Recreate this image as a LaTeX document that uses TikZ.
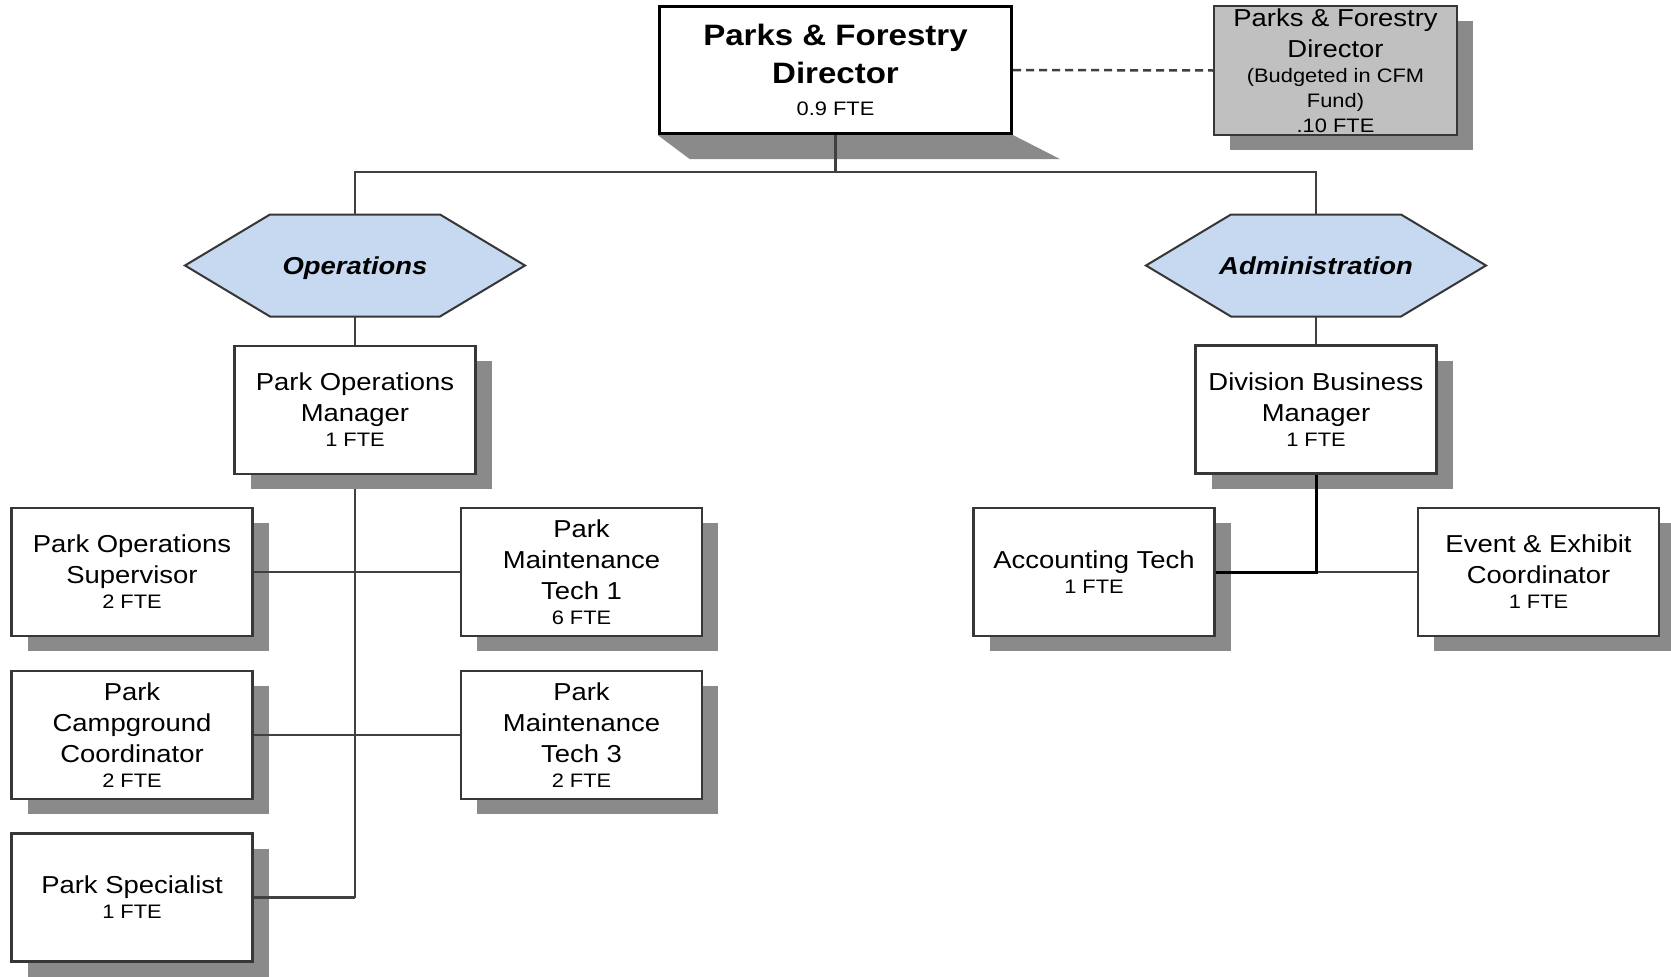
\documentclass[tikz,border=0pt]{standalone}
\usepackage{fontspec}
\setmainfont{Liberation Sans}[FakeStretch=1.12]
\usetikzlibrary{shadows,backgrounds,calc}

\definecolor{shadowcol}{RGB}{138,138,138}
\definecolor{bordercol}{RGB}{55,55,55}
\definecolor{linecol}{RGB}{64,64,64}
\definecolor{hexfill}{RGB}{198,217,240}
\definecolor{boxgray}{RGB}{192,192,192}

\newcommand\bodysize{\fontsize{24.5}{31}\selectfont}
\newcommand\ftesize{\fontsize{19.5}{25}\selectfont\mdseries}
\newcommand\titlesize{\fontsize{29.5}{38}\selectfont\bfseries}

\tikzset{
  boxbase/.style={rectangle, inner sep=0pt, align=center, font=\bodysize},
  staff/.style={boxbase, draw=bordercol, line width=2.3pt, fill=white,
    minimum width=241pt, minimum height=128pt,
    drop shadow={shadow xshift=16pt, shadow yshift=-15pt, fill=shadowcol, opacity=1, draw=none}},
  director/.style={boxbase, draw=black, line width=3.3pt, fill=white,
    minimum width=352pt, minimum height=127pt, font=\titlesize},
  budgeted/.style={staff, fill=boxgray, line width=2.5pt,
    minimum width=243pt, minimum height=129pt},
  hexlabel/.style={rectangle, inner sep=0pt, outer sep=0pt,
    minimum width=340pt, minimum height=102pt, text depth=0pt,
    font=\bodysize\bfseries\itshape},
  hexshape/.style={fill=hexfill, draw=bordercol, line width=2pt, line join=miter},
  conn/.style={draw=linecol, line width=2.2pt},
  strong/.style={draw=black, line width=3pt},
  dashconn/.style={draw=linecol, line width=2.5pt, dash pattern=on 8pt off 5pt},
  dirshadow/.style={fill=shadowcol},
}

\begin{document}
\begin{tikzpicture}[x=1pt,y=-1pt]
\useasboundingbox (0,0) rectangle (1671,977);

% top level
\node[director] (dir) at (835.5,70) {Parks \& Forestry\\Director\\[-6pt]\ftesize 0.9 FTE};
\node[budgeted] (dirb) at (1335.5,70.5) {Parks \& Forestry\\Director\\[-6pt]\ftesize (Budgeted in CFM\\[-6pt]\ftesize Fund)\\[-6pt]\ftesize .10 FTE};

% divisions
\node[hexlabel] (ops) at (355,265.5) {Operations};
\node[hexlabel] (adm) at (1316,265.5) {Administration};

% operations staff
\node[staff] (mgr) at (355,410) {Park Operations\\Manager\\[-6pt]\ftesize 1 FTE};
\node[staff] (sup) at (132,572) {Park Operations\\Supervisor\\[-6pt]\ftesize 2 FTE};
\node[staff] (camp) at (132,735) {Park\\Campground\\Coordinator\\[-6pt]\ftesize 2 FTE};
\node[staff] (spec) at (132,897.5) {Park Specialist\\[-6pt]\ftesize 1 FTE};
\node[staff] (t1) at (581.5,572) {Park\\Maintenance\\Tech 1\\[-6pt]\ftesize 6 FTE};
\node[staff] (t3) at (581.5,735) {Park\\Maintenance\\Tech 3\\[-6pt]\ftesize 2 FTE};

% administration staff
\node[staff] (div) at (1316,409.5) {Division Business\\Manager\\[-6pt]\ftesize 1 FTE};
\node[staff] (acct) at (1094,572) {Accounting Tech\\[-6pt]\ftesize 1 FTE};
\node[staff] (event) at (1538.5,572) {Event \& Exhibit\\Coordinator\\[-6pt]\ftesize 1 FTE};

\coordinate (busy) at (0,172);
\coordinate (bus) at (dir.south |- busy);
\coordinate (opsend) at (mgr.south |- spec.east);

\begin{scope}[on background layer]
  \fill[white] (0,0) rectangle (1671,977);
  % slanted shadow under the director box
  \fill[dirshadow] (dir.south west) -- (dir.south east)
    -- ([shift={(47,24)}]dir.south east) -- ([shift={(32,24)}]dir.south west) -- cycle;
  % division hexagons
  \filldraw[hexshape] (ops.west) -- ([xshift=85pt]ops.north west) -- ([xshift=-85pt]ops.north east)
    -- (ops.east) -- ([xshift=-85pt]ops.south east) -- ([xshift=85pt]ops.south west) -- cycle;
  \filldraw[hexshape] (adm.west) -- ([xshift=85pt]adm.north west) -- ([xshift=-85pt]adm.north east)
    -- (adm.east) -- ([xshift=-85pt]adm.south east) -- ([xshift=85pt]adm.south west) -- cycle;
  % reporting lines behind the boxes
  \draw[conn] (dir.south) -- (bus);
  \draw[conn] (ops.north) |- (bus) -| (adm.north);
  \draw[dashconn] (dir.east) -- (dirb.west);
  \draw[conn] (ops.south) -- (mgr.north);
  \draw[conn] (mgr.south) -- (opsend);
  \draw[conn] (adm.south) -- (div.north);
\end{scope}

% reporting lines drawn over the shadows
\draw[conn] (sup.east) -- (t1.west);
\draw[conn] (camp.east) -- (t3.west);
\draw[conn] (spec.east) -- (opsend);
\draw[conn] (div.south |- event.west) -- (event.west);
\draw[strong] (div.south) |- (acct.east);
\end{tikzpicture}
\end{document}
